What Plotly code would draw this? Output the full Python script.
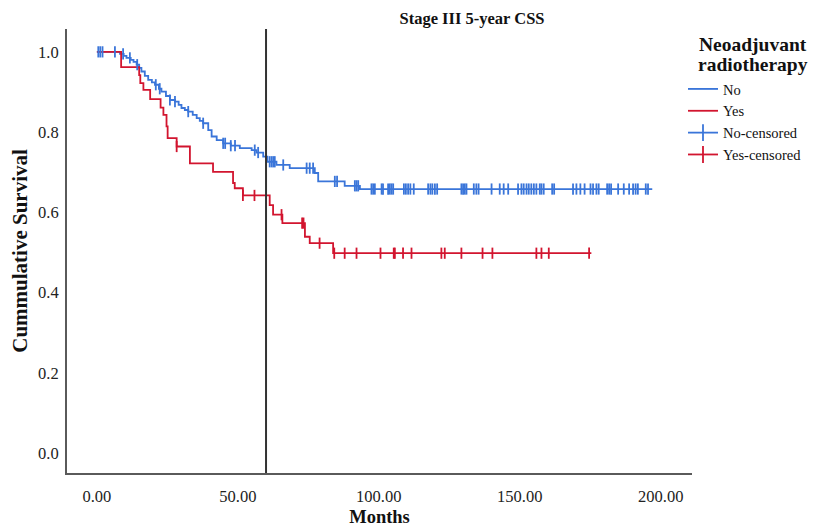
import plotly.graph_objects as go
import numpy as np

# Kaplan-Meier step data: No neoadjuvant radiotherapy
no_times = [0, 8.2, 9.5, 10.5, 12, 13, 14.1, 15, 15.8, 17, 18.2, 19.5, 20.6, 22, 22.9, 24.5,
            25.9, 27.7, 29, 30, 31.2, 32.4, 34, 35.4, 36.5, 37.7, 39.5, 40.7, 42.5, 44.8, 47.5,
            50.7, 54.9, 56.6, 59.0, 60.5, 63.7, 68.4, 77.3, 78.5, 87.9, 93.3, 197]
no_surv = [1.0, 0.995, 0.990, 0.985, 0.980, 0.975, 0.968, 0.960, 0.951, 0.940, 0.930, 0.924,
           0.918, 0.908, 0.901, 0.890, 0.880, 0.876, 0.868, 0.860, 0.855, 0.851, 0.843, 0.835,
           0.828, 0.822, 0.805, 0.789, 0.780, 0.772, 0.766, 0.760, 0.755, 0.749, 0.739, 0.726,
           0.718, 0.710, 0.698, 0.677, 0.666, 0.658, 0.658]
no_censor = [0.5, 1.2, 2.0, 6.4, 9.3, 11.7, 14.3, 20.9, 22.3, 25.9, 27.7, 32.4, 37.7, 44.8, 45.5,
             47.5, 49.0, 56.0, 57.2, 61.3, 62.0, 62.6, 63.1, 66.1, 74.4, 75.5, 76.7, 84.4, 85.2,
             91.5, 92.1, 92.7, 97.4, 98.0, 98.6, 101.0, 101.5, 103.3, 103.9, 104.5, 105.1,
             108.9, 109.6, 110.4, 111.2, 112.4, 117.5, 118.3, 119.0, 119.9, 120.7,
             129.3, 129.9, 130.5, 131.1, 133.7, 134.6, 135.4, 140.0, 142.9, 144.3, 145.9,
             149.4, 150.6, 151.4, 152.4, 153.2, 154.1, 155.0, 155.9, 157.1, 157.7, 158.5,
             161.5, 162.2, 168.9, 170.1, 171.5, 173.0, 175.1, 176.0, 177.2, 178.0,
             181.0, 181.7, 182.4, 184.9, 186.9, 188.8, 190.2, 191.1, 191.9, 194.7, 195.5]

# Kaplan-Meier step data: Yes neoadjuvant radiotherapy
yes_times = [0, 8.6, 15.0, 15.4, 16.5, 18.9, 22.6, 23.6, 24.7, 25.1, 28.3, 33.0, 41.2, 48.3,
             48.9, 51.8, 61.3, 62.5, 65.8, 73.8, 75.5, 83.8, 175.4]
yes_surv = [1.0, 0.962, 0.942, 0.922, 0.905, 0.882, 0.861, 0.843, 0.814, 0.785, 0.764, 0.722,
            0.701, 0.673, 0.660, 0.642, 0.618, 0.594, 0.573, 0.539, 0.523, 0.498, 0.498]
yes_censor = [28.3, 51.8, 55.9, 65.5, 72.8, 73.3, 79.0, 84.2, 87.9, 92.1, 100.6, 105.3, 105.7,
              108.6, 111.6, 122.2, 123.4, 129.3, 136.8, 140.3, 155.9, 157.7, 160.3, 174.6]

cutoff_month = 60
x_ticks = [0, 50, 100, 150, 200]
y_ticks = [0.0, 0.2, 0.4, 0.6, 0.8, 1.0]
legend_title_lines = ["Neoadjuvant", "radiotherapy"]

BLUE = "#3a75d9"
RED = "#d2152f"
FONT = "Liberation Serif"
W, H = 820, 527
ML, MR, MT, MB = 67, 128, 29, 54
PW, PH = W - ML - MR, H - MT - MB


def surv_at(times, surv, t):
    idx = np.searchsorted(np.array(times), t, side="right") - 1
    return surv[max(idx, 0)]


def px_x(p):
    return (p - ML) / PW


def px_y(p):
    return (H - MB - p) / PH


fig = go.Figure()
fig.add_trace(go.Scatter(x=no_times, y=no_surv, mode="lines", line=dict(color=BLUE, width=1.8, shape="hv"),
                         name="No"))
fig.add_trace(go.Scatter(x=yes_times, y=yes_surv, mode="lines", line=dict(color=RED, width=1.8, shape="hv"),
                         name="Yes"))
fig.add_trace(go.Scatter(x=no_censor, y=[surv_at(no_times, no_surv, t) for t in no_censor], mode="markers",
                         marker=dict(symbol="line-ns", size=8, line=dict(color=BLUE, width=1.8)),
                         showlegend=False, legendgroup="nc"))
fig.add_trace(go.Scatter(x=yes_censor, y=[surv_at(yes_times, yes_surv, t) for t in yes_censor], mode="markers",
                         marker=dict(symbol="line-ns", size=8, line=dict(color=RED, width=1.8)),
                         showlegend=False, legendgroup="yc"))
# legend entries for censored marks
fig.add_trace(go.Scatter(x=[None], y=[None], mode="lines+markers", name="No-censored", legendgroup="nc",
                         line=dict(color=BLUE, width=1.8),
                         marker=dict(symbol="line-ns", size=12, line=dict(color=BLUE, width=1.8))))
fig.add_trace(go.Scatter(x=[None], y=[None], mode="lines+markers", name="Yes-censored", legendgroup="yc",
                         line=dict(color=RED, width=1.8),
                         marker=dict(symbol="line-ns", size=12, line=dict(color=RED, width=1.8))))

fig.add_vline(x=cutoff_month, line=dict(color="#333333", width=2))

for i, txt in enumerate(legend_title_lines):
    fig.add_annotation(text="<b>%s</b>" % txt, xref="paper", yref="paper",
                       x=px_x(753), y=px_y(45 + 20 * i), xanchor="center", yanchor="middle",
                       showarrow=False, font=dict(family=FONT, size=19.5, color="#111111"))

fig.update_layout(
    width=W, height=H,
    margin=dict(l=ML, r=MR, t=MT, b=MB),
    plot_bgcolor="white", paper_bgcolor="white",
    font=dict(family=FONT, size=16.5, color="#222222"),
    title=dict(text="<b>Stage III 5-year CSS</b>", x=px_x(472), xref="paper", xanchor="center",
               y=1 - 18 / H, yref="container", yanchor="middle",
               font=dict(family=FONT, size=16.5, color="#111111")),
    legend=dict(x=px_x(683), xanchor="left", y=px_y(73), yanchor="top",
                font=dict(family=FONT, size=14.5, color="#111111"),
                itemwidth=30, tracegroupgap=0, bgcolor="rgba(0,0,0,0)", borderwidth=0),
    showlegend=True,
)
fig.update_xaxes(range=[-10.6, 211.1], tickvals=x_ticks, tickformat=".2f", showgrid=False, zeroline=False,
                 showline=True, linecolor="#5a5a5a", linewidth=2, ticks="", ticklabelstandoff=7,
                 automargin=False,
                 title=dict(text="<b>Months</b>", font=dict(family=FONT, size=18.5, color="#111111"), standoff=9))
fig.update_yaxes(range=[-0.05, 1.057], tickvals=y_ticks, tickformat=".1f", showgrid=False, zeroline=False,
                 showline=True, linecolor="#5a5a5a", linewidth=2, ticks="", ticklabelstandoff=3,
                 automargin=False,
                 title=dict(text="<b>Cummulative Survival</b>", font=dict(family=FONT, size=21, color="#111111"),
                            standoff=5))

fig.write_html("out.html")
